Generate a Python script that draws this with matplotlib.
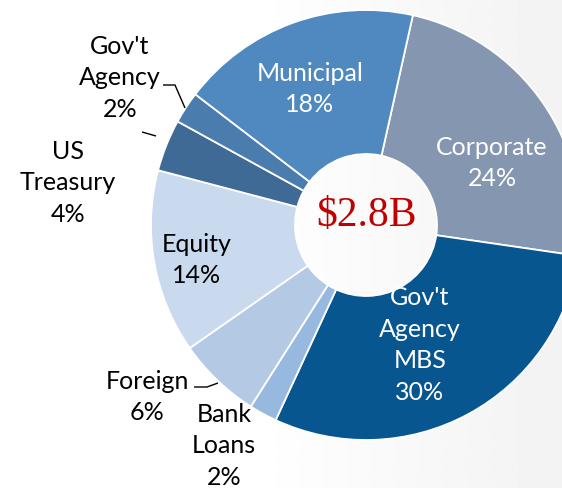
import numpy as np
import matplotlib
matplotlib.use("Agg")
import matplotlib.pyplot as plt

# slices, clockwise from the Municipal/Corporate boundary
categories = ["Corporate", "Gov't\nAgency\nMBS", "Bank\nLoans", "Foreign",
              "Equity", "US\nTreasury", "Gov't\nAgency", "Municipal"]
shares = [23.8, 29.6, 2.1, 6.3, 13.8, 3.9, 2.4, 18.1]
pct_labels = ["24%", "30%", "2%", "6%", "14%", "4%", "2%", "18%"]
colors = ["#8597B0", "#07568F", "#98B9DF", "#B4C9E4",
          "#C9D9EE", "#3F6A96", "#4A7CAE", "#4F89BF"]
total_label = "$2.8B"

W, H = 562, 489
fig = plt.figure(figsize=(W / 100, H / 100), dpi=100)

# faint grey wash on the right side of the slide
bg = fig.add_axes([0, 0, 1, 1])
grad = np.clip((np.linspace(0, 1, 256) - 0.45) / 0.55, 0, 1)
grad = 1 - 0.05 * grad
bg.imshow(np.tile(grad, (2, 1)), cmap="gray", vmin=0, vmax=1,
          aspect="auto", extent=[0, 1, 0, 1])
bg.axis("off")

ax = fig.add_axes([0, 0, 1, 1])
ax.set_xlim(0, W)
ax.set_ylim(0, H)
ax.set_aspect("equal")
ax.axis("off")
ax.patch.set_alpha(0)


def py(y):
    # pixel row (from top) -> axis y
    return H - y


cx, cy, R, r_hole = 366, py(226), 215, 71
ax.pie(shares, colors=colors, startangle=77.4, counterclock=False,
       center=(cx, cy), radius=R, frame=True,
       wedgeprops=dict(width=R - r_hole, edgecolor="white", linewidth=1.3))
ax.set_xlim(0, W)
ax.set_ylim(0, H)
ax.axis("off")

ax.text(cx, py(216), total_label, ha="center", va="center",
        fontsize=30, color="#C00000", family="Liberation Serif")

# label centres in pixels (from top-left), text colour
label_pos = {
    "Corporate": (492, 163, "white"),
    "Gov't\nAgency\nMBS": (420, 345, "white"),
    "Bank\nLoans": (224, 446, "black"),
    "Foreign": (147, 397, "black"),
    "Equity": (197, 260, "black"),
    "US\nTreasury": (68, 183, "black"),
    "Gov't\nAgency": (120, 78, "black"),
    "Municipal": (310, 89, "white"),
}
for name, pct in zip(categories, pct_labels):
    x, y, c = label_pos[name]
    ax.text(x, py(y), f"{name}\n{pct}", ha="center", va="center",
            fontsize=18, color=c, family="Lato", linespacing=1.45)

# leader lines for the small outside labels
leaders = [
    [(163, 86), (175, 86), (185, 109)],
    [(142, 133), (156, 137)],
    [(194, 388), (207, 388), (218, 384)],
]
for pts in leaders:
    xs = [p[0] for p in pts]
    ys = [py(p[1]) for p in pts]
    ax.plot(xs, ys, color="black", linewidth=1.0, solid_capstyle="butt")

fig.savefig("out.png", dpi=100)
